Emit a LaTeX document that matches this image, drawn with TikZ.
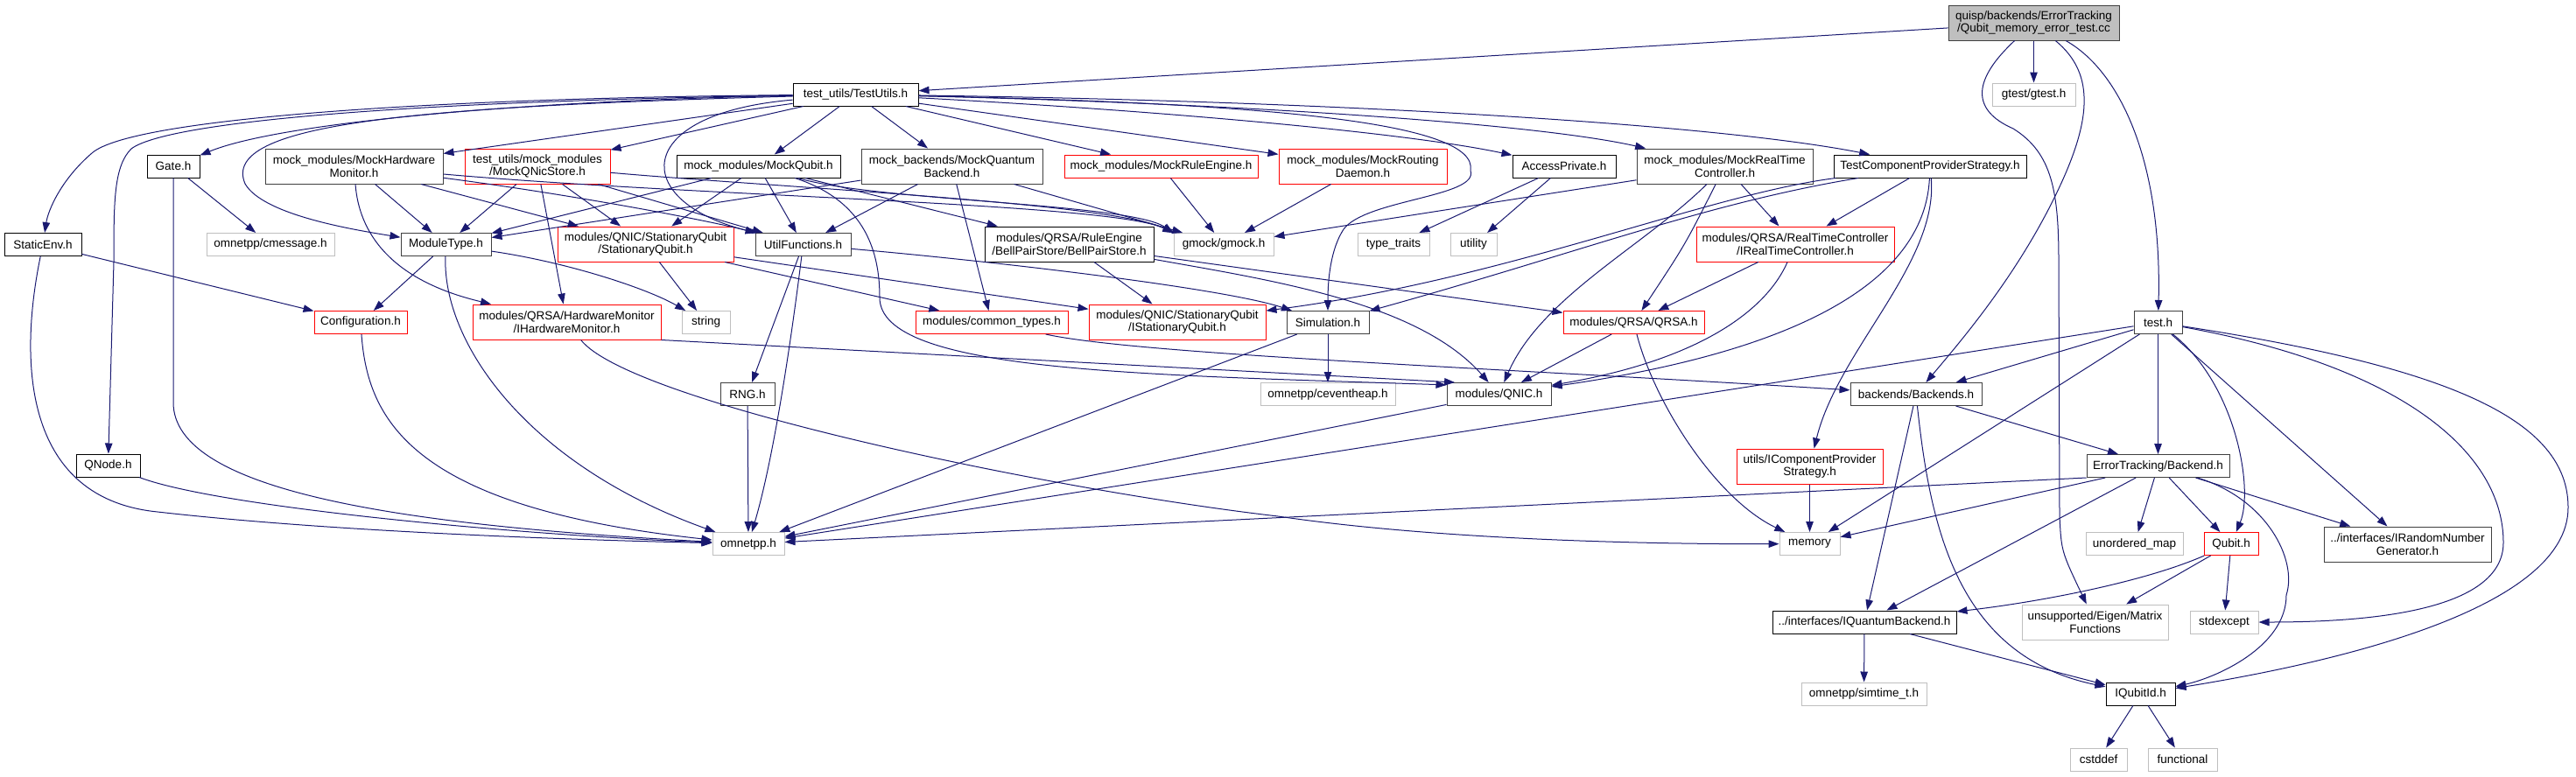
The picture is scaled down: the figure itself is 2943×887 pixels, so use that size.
\documentclass[tikz,border=0pt]{standalone}
\usepackage{fontspec}
\setmainfont{Liberation Sans}
\usetikzlibrary{arrows.meta}
\definecolor{edgeblue}{HTML}{191970}
\definecolor{gdark}{HTML}{404040}
\definecolor{glight}{HTML}{BFBFBF}
\begin{document}
\begin{tikzpicture}[x=1pt,y=-1pt,
  nb/.style={draw=black, line width=1pt, fill=white, inner sep=0pt, minimum height=26pt,
     font=\fontsize{13.5}{14.4}\selectfont, align=center},
  nk/.style={nb, draw=gdark},
  nr/.style={nb, draw=red},
  ng/.style={nb, draw=glight},
  tl/.style={minimum height=40pt},
  edg/.style={draw=edgeblue, line width=1pt, -{Triangle[length=12pt,width=8.5pt]}}]
\useasboundingbox (0,0) rectangle (2943,887);
% ---------- nodes ----------
\node[nk, tl, fill=glight, minimum width=195pt] (top) at (2323.5,26) {quisp/backends/ErrorTracking\\/Qubit\_memory\_error\_test.cc};
\node[ng, minimum width=95pt] (gtest) at (2323.5,108) {gtest/gtest.h};
\node[nb, minimum width=143pt] (testutils) at (977.5,108) {test\_utils/TestUtils.h};
\node[nb, minimum width=88pt] (staticenv) at (49,279.5) {StaticEnv.h};
\node[nb, minimum width=60pt] (gate) at (198,190) {Gate.h};
\node[ng, minimum width=146pt] (cmessage) at (309,279.5) {omnetpp/cmessage.h};
\node[nk, tl, minimum width=203pt] (mockhw) at (404.5,190) {mock\_modules/MockHardware\\Monitor.h};
\node[nr, tl, minimum width=166pt] (mockqnic) at (614,190) {test\_utils/mock\_modules\\/MockQNicStore.h};
\node[nk, minimum width=103pt] (moduletype) at (509.5,279.5) {ModuleType.h};
\node[nr, tl, minimum width=201pt] (statq) at (737.5,279) {modules/QNIC/StationaryQubit\\/StationaryQubit.h};
\node[nb, minimum width=187pt] (mockqubit) at (866.5,190) {mock\_modules/MockQubit.h};
\node[nk, tl, minimum width=207pt] (mockqb) at (1087.5,190) {mock\_backends/MockQuantum\\Backend.h};
\node[nr, minimum width=221pt] (mockre) at (1326.5,190) {mock\_modules/MockRuleEngine.h};
\node[nk, minimum width=109pt] (util) at (917.5,279.5) {UtilFunctions.h};
\node[nb, tl, minimum width=193pt] (bps) at (1221.5,279) {modules/QRSA/RuleEngine\\/BellPairStore/BellPairStore.h};
\node[ng, minimum width=114pt] (gmock) at (1398,279.5) {gmock/gmock.h};
\node[nr, tl, minimum width=192pt] (mockrd) at (1557,190) {mock\_modules/MockRouting\\Daemon.h};
\node[nb, minimum width=118pt] (access) at (1787,190) {AccessPrivate.h};
\node[nk, tl, minimum width=201pt] (mockrtc) at (1970.5,190) {mock\_modules/MockRealTime\\Controller.h};
\node[nb, minimum width=220pt] (tcps) at (2205,190) {TestComponentProviderStrategy.h};
\node[ng, minimum width=82pt] (typetraits) at (1592,279.5) {type\_traits};
\node[ng, minimum width=53pt] (utility) at (1683.5,279.5) {utility};
\node[nr, tl, minimum width=226pt] (irtc) at (2051,279) {modules/QRSA/RealTimeController\\/IRealTimeController.h};
\node[nr, minimum width=106pt] (config) at (412,368.5) {Configuration.h};
\node[nr, tl, minimum width=215pt] (ihm) at (647.5,368) {modules/QRSA/HardwareMonitor\\/IHardwareMonitor.h};
\node[ng, minimum width=55pt] (string) at (806.5,368.5) {string};
\node[nr, minimum width=174pt] (ctypes) at (1133,368.5) {modules/common\_types.h};
\node[nr, tl, minimum width=202pt] (istatq) at (1345,368) {modules/QNIC/StationaryQubit\\/IStationaryQubit.h};
\node[nk, minimum width=94pt] (sim) at (1517,368.5) {Simulation.h};
\node[nr, minimum width=161pt] (qrsa) at (1866.5,368.5) {modules/QRSA/QRSA.h};
\node[nk, minimum width=55pt] (testh) at (2465.5,368.5) {test.h};
\node[nb, minimum width=73pt] (qnode) at (123.5,532) {QNode.h};
\node[nk, minimum width=62pt] (rng) at (854,450.5) {RNG.h};
\node[ng, minimum width=154pt] (ceventheap) at (1517,450.5) {omnetpp/ceventheap.h};
\node[nk, minimum width=119pt] (qnic) at (1712.5,450.5) {modules/QNIC.h};
\node[nk, minimum width=150pt] (backends) at (2189,450.5) {backends/Backends.h};
\node[nr, tl, minimum width=167pt] (icps) at (2067.5,533) {utils/IComponentProvider\\Strategy.h};
\node[nk, minimum width=163pt] (etbackend) at (2465.5,532.5) {ErrorTracking/Backend.h};
\node[ng, minimum width=82pt] (omnetpp) at (855,621.5) {omnetpp.h};
\node[ng, minimum width=69pt] (memory) at (2067.5,621.5) {memory};
\node[ng, minimum width=111pt] (umap) at (2438.5,621.5) {unordered\_map};
\node[nr, minimum width=62pt] (qubit) at (2549,621.5) {Qubit.h};
\node[nk, tl, minimum width=191pt] (irng) at (2750.5,622) {../interfaces/IRandomNumber\\Generator.h};
\node[nb, minimum width=210pt] (iqb) at (2130,711) {../interfaces/IQuantumBackend.h};
\node[ng, tl, minimum width=167pt] (eigen) at (2393.5,711) {unsupported/Eigen/Matrix\\Functions};
\node[ng, minimum width=78pt] (stdexcept) at (2541,711) {stdexcept};
\node[ng, minimum width=143pt] (simtime) at (2129.5,793) {omnetpp/simtime\_t.h};
\node[nb, minimum width=79pt] (iqubitid) at (2445.5,793) {IQubitId.h};
\node[ng, minimum width=65pt] (cstddef) at (2397.5,868) {cstddef};
\node[ng, minimum width=79pt] (functional) at (2493.5,868) {functional};
% ---------- edges ----------
% top
\draw[edg] (top) -- (testutils);
\draw[edg] (top) -- (gtest);
\draw[edg] (top) .. controls (2255,90) and (2250,125) .. (2300,147) .. controls (2345,175) and (2352,220) .. (2352,300) -- (2353,590) .. controls (2355,630) .. (eigen);
\draw[edg] (top) .. controls (2395,85) and (2390,140) .. (2345,230) .. controls (2300,320) and (2240,390) .. (backends);
\draw[edg] (top) .. controls (2420,80) and (2470,180) .. (testh);
% testutils
\draw[edg] (testutils) .. controls (500,112) and (150,135) .. (105,175) .. controls (70,205) and (55,240) .. (staticenv);
\draw[edg] (testutils) .. controls (450,116) and (190,140) .. (150,170) .. controls (130,190) and (130,230) .. (130,300) -- (qnode);
\draw[edg] (testutils) .. controls (600,115) and (320,140) .. (gate);
\draw[edg] (testutils) .. controls (480,122) and (250,140) .. (280,210) .. controls (300,245) and (400,262) .. (moduletype);
\draw[edg] (testutils) -- (mockhw);
\draw[edg] (testutils) -- (mockqnic);
\draw[edg] (testutils) .. controls (720,130) and (720,230) .. (util);
\draw[edg] (testutils) -- (mockqubit);
\draw[edg] (testutils) -- (mockqb);
\draw[edg] (testutils) -- (mockre);
\draw[edg] (testutils) -- (mockrd);
\draw[edg] (testutils) .. controls (1300,125) and (1600,150) .. (access);
\draw[edg] (testutils) .. controls (1400,118) and (1750,140) .. (mockrtc);
\draw[edg] (testutils) .. controls (1500,115) and (1950,140) .. (tcps);
\draw[edg] (testutils) .. controls (1450,118) and (1690,140) .. (1680,195) .. controls (1690,225) and (1560,228) .. (1535,262) .. controls (1520,285) and (1517,320) .. (sim);
% mockhw
\draw[edg] (mockhw) .. controls (410,265) and (445,320) .. (ihm);
\draw[edg] (mockhw) -- (moduletype);
\draw[edg] (mockhw) -- (statq);
\draw[edg] (mockhw) .. controls (650,222) and (800,250) .. (util);
\draw[edg] (mockhw) .. controls (800,225) and (1270,232) .. (gmock.north west);
% mockqnic
\draw[edg] (mockqnic) -- (moduletype);
\draw[edg] (mockqnic) -- (ihm);
\draw[edg] (mockqnic) -- (statq);
\draw[edg] (mockqnic) -- (util);
\draw[edg] (mockqnic) .. controls (900,215) and (1270,232) .. (gmock.north west);
% mockqubit
\draw[edg] (mockqubit) -- (moduletype);
\draw[edg] (mockqubit) -- (statq);
\draw[edg] (mockqubit) -- (util);
\draw[edg] (mockqubit) -- (bps);
\draw[edg] (mockqubit) .. controls (1000,230) and (1290,232) .. (gmock.north west);
\draw[edg] (mockqubit) .. controls (990,230) and (1005,290) .. (1005,340) .. controls (1005,425) and (1300,428) .. (qnic.170);
% mockqb
\draw[edg] (mockqb) -- (moduletype);
\draw[edg] (mockqb) -- (util);
\draw[edg] (mockqb) -- (ctypes);
\draw[edg] (mockqb) -- (gmock);
% rule engine, routing daemon
\draw[edg] (mockre) -- (gmock);
\draw[edg] (mockrd) -- (gmock);
% mockrtc
\draw[edg] (mockrtc) -- (gmock);
\draw[edg] (mockrtc) -- (irtc);
\draw[edg] (mockrtc) .. controls (1925,280) .. (qrsa);
\draw[edg] (mockrtc) .. controls (1880,280) and (1760,340) .. (qnic);
% access
\draw[edg] (access) -- (typetraits);
\draw[edg] (access) -- (utility);
% tcps
\draw[edg] (tcps) -- (irtc);
\draw[edg] (tcps) .. controls (1950,232) and (1800,290) .. (sim);
\draw[edg] (tcps) .. controls (1950,222) and (1720,320) .. (istatq);
\draw[edg] (tcps) .. controls (2200,300) and (2100,395) .. (qnic);
\draw[edg] (tcps) .. controls (2215,300) and (2100,400) .. (icps);
% irtc
\draw[edg] (irtc) -- (qrsa);
\draw[edg] (irtc) .. controls (2020,350) and (1950,410) .. (qnic);
% bps
\draw[edg] (bps) -- (istatq);
\draw[edg] (bps) -- (qrsa);
\draw[edg] (bps) .. controls (1450,320) and (1620,345) .. (qnic);
% ctypes
\draw[edg] (ctypes) .. controls (1300,405) and (1700,420) .. (backends);
% statq
\draw[edg] (statq) -- (string);
\draw[edg] (statq) -- (ctypes);
\draw[edg] (statq) -- (istatq);
% moduletype
\draw[edg] (moduletype) -- (config);
\draw[edg] (moduletype) .. controls (650,300) and (740,330) .. (string);
\draw[edg] (moduletype) .. controls (505,390) and (600,530) .. (omnetpp);
% staticenv, gate, qnode, config
\draw[edg] (staticenv) -- (config);
\draw[edg] (staticenv) .. controls (20,420) and (30,570) .. (180,585) .. controls (400,610) and (700,618) .. (omnetpp);
\draw[edg] (gate) -- (cmessage);
\draw[edg] (gate) -- (198,460) .. controls (198,560) and (450,600) .. (omnetpp);
\draw[edg] (qnode) .. controls (250,580) and (600,612) .. (omnetpp);
\draw[edg] (config) .. controls (420,480) and (470,580) .. (omnetpp);
% ihm
\draw[edg] (ihm.south east) -- (qnic.165);
\draw[edg] (ihm) .. controls (720,460) and (1200,560) .. (1460,590) .. controls (1650,618) and (1900,622) .. (memory);
% util
\draw[edg] (util) -- (rng);
\draw[edg] (util) .. controls (905,380) and (885,520) .. (omnetpp);
\draw[edg] (util) .. controls (1150,300) and (1400,330) .. (sim);
% misc
\draw[edg] (rng) -- (omnetpp);
\draw[edg] (sim) -- (ceventheap);
\draw[edg] (sim) -- (omnetpp);
\draw[edg] (qrsa) -- (qnic);
\draw[edg] (qrsa) .. controls (1890,460) and (1960,570) .. (memory);
\draw[edg] (qnic) -- (omnetpp);
\draw[edg] (backends) -- (etbackend);
\draw[edg] (backends) -- (iqb);
\draw[edg] (backends) .. controls (2205,600) and (2235,750) .. (iqubitid);
\draw[edg] (icps) -- (memory);
% test.h
\draw[edg] (testh) -- (backends);
\draw[edg] (testh) -- (omnetpp);
\draw[edg] (testh) -- (memory);
\draw[edg] (testh) -- (etbackend);
\draw[edg] (testh) .. controls (2555,440) and (2575,560) .. (qubit);
\draw[edg] (testh) -- (irng);
\draw[edg] (testh) .. controls (2750,420) and (2860,520) .. (2860,620) .. controls (2860,700) and (2700,711) .. (stdexcept);
\draw[edg] (testh) .. controls (2800,420) and (2934,480) .. (2934,580) .. controls (2934,700) and (2650,760) .. (iqubitid);
% ErrorTracking/Backend.h
\draw[edg] (etbackend.south west) -- (omnetpp);
\draw[edg] (etbackend) -- (memory);
\draw[edg] (etbackend) -- (iqb);
\draw[edg] (etbackend) -- (umap);
\draw[edg] (etbackend) -- (qubit);
\draw[edg] (etbackend) .. controls (2590,570) and (2625,640) .. (2612,680) .. controls (2612,740) and (2530,775) .. (iqubitid);
\draw[edg] (etbackend) -- (irng);
% Qubit.h
\draw[edg] (qubit) .. controls (2450,665) and (2330,688) .. (iqb);
\draw[edg] (qubit) -- (eigen);
\draw[edg] (qubit) -- (stdexcept);
% lower
\draw[edg] (iqb) -- (simtime);
\draw[edg] (iqb) -- (iqubitid);
\draw[edg] (iqubitid) -- (cstddef);
\draw[edg] (iqubitid) -- (functional);
\end{tikzpicture}
\end{document}
